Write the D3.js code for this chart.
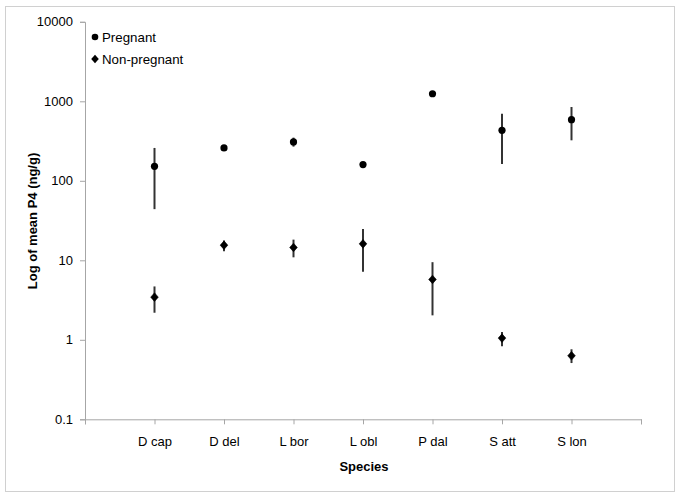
<!DOCTYPE html>
<html><head><meta charset="utf-8">
<script src="https://cdn.jsdelivr.net/npm/d3@7"></script>
<style>body{margin:0;background:#fff}svg{display:block}</style>
</head><body>
<svg id="c" width="683" height="499"></svg>
<script>
const categories = ["D cap","D del","L bor","L obl","P dal","S att","S lon"];
const pregnantMean = [152, 259, 308, 160, 1245, 431, 588];
const pregnantLow  = [44, 241, 269, 160, 1245, 163, 323];
const pregnantHigh = [259, 280, 349, 160, 1245, 698, 848];
const nonPregMean = [3.44, 15.5, 14.5, 16.1, 5.74, 1.05, 0.63];
const nonPregLow  = [2.19, 13.0, 10.9, 7.2, 2.03, 0.83, 0.51];
const nonPregHigh = [4.69, 17.7, 18.2, 24.8, 9.47, 1.25, 0.76];
const yTicks = [0.1, 1, 10, 100, 1000, 10000];
const yTickLabels = ["0.1","1","10","100","1000","10000"];

const svg = d3.select("#c");
const font = "Liberation Sans, Arial, sans-serif";
svg.append("rect").attr("x",5.5).attr("y",6.5).attr("width",669).attr("height",485)
  .attr("fill","#fff").attr("stroke","#d0d0d0").attr("stroke-width",1);

const L=85, R=641, T=21.8, B=419.3;
const x = d3.scaleLinear().domain([0,8]).range([L,R]);
const y = d3.scaleLog().domain([0.1,10000]).range([B,T]);

const axisColor="#a6a6a6";
const yAxis = svg.append("g").attr("transform",`translate(${L},0)`)
  .call(d3.axisLeft(y).tickValues(yTicks).tickFormat((d,i)=>yTickLabels[i]).tickSize(5).tickPadding(7));
const xAxis = svg.append("g").attr("transform",`translate(0,${B})`)
  .call(d3.axisBottom(x).tickValues(d3.range(0,9)).tickFormat(d=> (d>=1&&d<=7)?categories[d-1]:"").tickSize(5).tickPadding(12));
[yAxis,xAxis].forEach(a=>{
  a.select(".domain").attr("stroke",axisColor).attr("stroke-width",1);
  a.selectAll(".tick line").attr("stroke",axisColor);
  a.selectAll("text").attr("fill","#000").style("font-family",font).style("font-size","13px");
});

const eb = svg.append("g").attr("stroke","#333").attr("stroke-width",2);
categories.forEach((c,i)=>{
  if(pregnantHigh[i]!==pregnantLow[i])
    eb.append("line").attr("x1",x(i+1)).attr("x2",x(i+1)).attr("y1",y(pregnantLow[i])).attr("y2",y(pregnantHigh[i]));
  eb.append("line").attr("x1",x(i+1)).attr("x2",x(i+1)).attr("y1",y(nonPregLow[i])).attr("y2",y(nonPregHigh[i]));
});
svg.append("g").selectAll("circle").data(pregnantMean).join("circle")
  .attr("cx",(d,i)=>x(i+1)).attr("cy",d=>y(d)).attr("r",3.6).attr("fill","#000");
const diamondPath = "M0,-4.3L3.8,0L0,4.3L-3.8,0Z";
svg.append("g").selectAll("path").data(nonPregMean).join("path")
  .attr("d",diamondPath).attr("transform",(d,i)=>`translate(${x(i+1)},${y(d)})`).attr("fill","#000")
  .attr("stroke","#000").attr("stroke-width",0.6).attr("stroke-linejoin","round");

const lg = svg.append("g");
lg.append("circle").attr("cx",95).attr("cy",37).attr("r",3.3).attr("fill","#000");
lg.append("path").attr("d",diamondPath).attr("transform","translate(95,59)").attr("fill","#000");
lg.append("text").attr("x",102).attr("y",42).text("Pregnant").style("font-family",font).style("font-size","13.3px");
lg.append("text").attr("x",102).attr("y",64).text("Non-pregnant").style("font-family",font).style("font-size","13.3px");

svg.append("text").attr("x",364).attr("y",471).attr("text-anchor","middle")
  .style("font-family",font).style("font-size","13px").style("font-weight","bold").text("Species");
svg.append("text").attr("transform","translate(37,221) rotate(-90)").attr("text-anchor","middle")
  .style("font-family",font).style("font-size","13px").style("font-weight","bold").text("Log of mean P4 (ng/g)");
</script>
</body></html>
